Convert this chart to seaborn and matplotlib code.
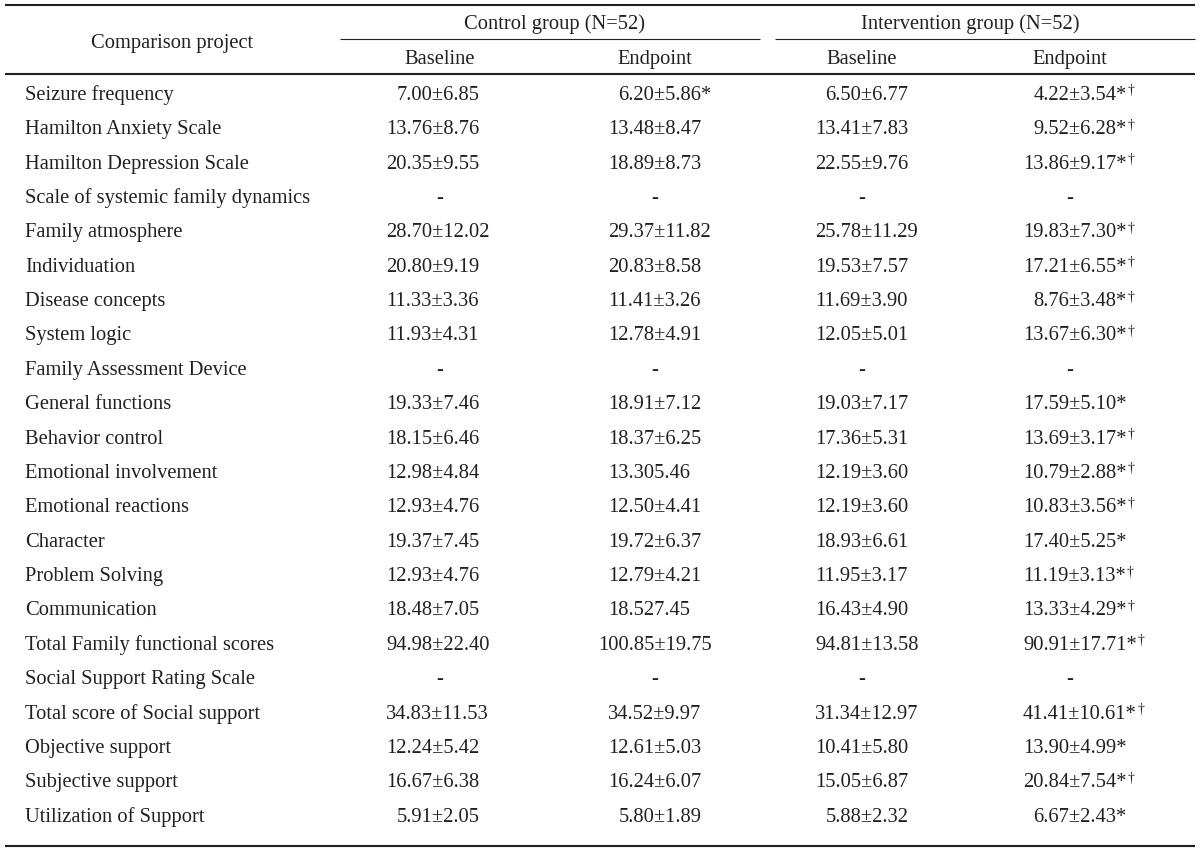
import matplotlib
matplotlib.use("Agg")
import matplotlib.pyplot as plt
import seaborn as sns

# ---------------- data ----------------
stub_title = "Comparison project"
group_titles = ["Control group (N=52)", "Intervention group (N=52)"]
sub_titles = ["Baseline", "Endpoint", "Baseline", "Endpoint"]

row_labels = [
    "Seizure frequency", "Hamilton Anxiety Scale", "Hamilton Depression Scale",
    "Scale of systemic family dynamics", "Family atmosphere", "Individuation",
    "Disease concepts", "System logic", "Family Assessment Device",
    "General functions", "Behavior control", "Emotional involvement",
    "Emotional reactions", "Character", "Problem Solving", "Communication",
    "Total Family functional scores", "Social Support Rating Scale",
    "Total score of Social support", "Objective support", "Subjective support",
    "Utilization of Support",
]
control_baseline = [
    "7.00±6.85", "13.76±8.76", "20.35±9.55", "-", "28.70±12.02", "20.80±9.19",
    "11.33±3.36", "11.93±4.31", "-", "19.33±7.46", "18.15±6.46", "12.98±4.84",
    "12.93±4.76", "19.37±7.45", "12.93±4.76", "18.48±7.05", "94.98±22.40", "-",
    "34.83±11.53", "12.24±5.42", "16.67±6.38", "5.91±2.05",
]
control_endpoint = [
    "6.20±5.86", "13.48±8.47", "18.89±8.73", "-", "29.37±11.82", "20.83±8.58",
    "11.41±3.26", "12.78±4.91", "-", "18.91±7.12", "18.37±6.25", "13.305.46",
    "12.50±4.41", "19.72±6.37", "12.79±4.21", "18.527.45", "100.85±19.75", "-",
    "34.52±9.97", "12.61±5.03", "16.24±6.07", "5.80±1.89",
]
control_endpoint_marks = [
    "*", "", "", "", "", "", "", "", "", "", "", "",
    "", "", "", "", "", "", "", "", "", "",
]
intervention_baseline = [
    "6.50±6.77", "13.41±7.83", "22.55±9.76", "-", "25.78±11.29", "19.53±7.57",
    "11.69±3.90", "12.05±5.01", "-", "19.03±7.17", "17.36±5.31", "12.19±3.60",
    "12.19±3.60", "18.93±6.61", "11.95±3.17", "16.43±4.90", "94.81±13.58", "-",
    "31.34±12.97", "10.41±5.80", "15.05±6.87", "5.88±2.32",
]
intervention_endpoint = [
    "4.22±3.54", "9.52±6.28", "13.86±9.17", "-", "19.83±7.30", "17.21±6.55",
    "8.76±3.48", "13.67±6.30", "-", "17.59±5.10", "13.69±3.17", "10.79±2.88",
    "10.83±3.56", "17.40±5.25", "11.19±3.13", "13.33±4.29", "90.91±17.71", "-",
    "41.41±10.61", "13.90±4.99", "20.84±7.54", "6.67±2.43",
]
intervention_endpoint_marks = [
    "*†", "*†", "*†", "", "*†", "*†", "*†", "*†", "", "*", "*†", "*†",
    "*†", "*", "*†", "*†", "*†", "", "*†", "*", "*†", "*",
]

# ---------------- style ----------------
sns.set_theme(style="white")
plt.rcParams["font.family"] = ["Liberation Serif", "DejaVu Serif"]
INK = "#231f20"
FS = 14.8
PX_PER_PT = 100 / 72
DIGIT = 0.5 * FS * PX_PER_PT

fig = plt.figure(figsize=(12, 8.51), dpi=100)
ax = fig.add_axes([0, 0, 1, 1])
ax.set_xlim(0, 1200)
ax.set_ylim(851, 0)
ax.axis("off")

head_centers = [440, 655, 862, 1070]
value_starts = [386, 608, 815, 1023]   # left edge of a two-digit mean
group_spans = [(340, 760), (775, 1195)]
group_centers = [555, 970]
row0, row_step = 93, 34.38
cap_half = 0.33 * FS * PX_PER_PT


def put(x, y, s, ha="left", fs=FS):
    return ax.text(x, y + cap_half, s, ha=ha, va="baseline",
                   fontsize=fs, color=INK)


# rules
ax.hlines([4.5, 74, 846], 5, 1195, color=INK, lw=1.5)
for (a, b) in group_spans:
    ax.hlines(39, a, b, color=INK, lw=0.8)

# header
put(172, 41, stub_title, ha="center")
for gx, t in zip(group_centers, group_titles):
    put(gx, 22, t, ha="center")
for cx, t in zip(head_centers, sub_titles):
    put(cx, 57, t, ha="center")

columns = [control_baseline, control_endpoint, intervention_baseline, intervention_endpoint]
marks = [None, control_endpoint_marks, None, intervention_endpoint_marks]

daggers = []
for i, lab in enumerate(row_labels):
    y = row0 + i * row_step
    put(25, y, lab)
    for j, col in enumerate(columns):
        v = col[i]
        if v == "-":
            put(head_centers[j], y, "-", ha="center")
            continue
        n_int = len(v.split(".")[0])
        x = value_starts[j] + (2 - n_int) * DIGIT
        m = marks[j][i] if marks[j] is not None else ""
        star = "*" if "*" in m else ""
        t = put(x, y, v + star)
        if "†" in m:
            daggers.append((t, y))

fig.canvas.draw()
renderer = fig.canvas.get_renderer()
inv = ax.transData.inverted()
for t, y in daggers:
    bb = t.get_window_extent(renderer)
    x_end = inv.transform((bb.x1, bb.y0))[0]
    ax.text(x_end + 0.8, y + cap_half - 5.5, "†", ha="left", va="baseline",
            fontsize=FS * 0.68, color=INK)

fig.savefig("out.png", dpi=100)
